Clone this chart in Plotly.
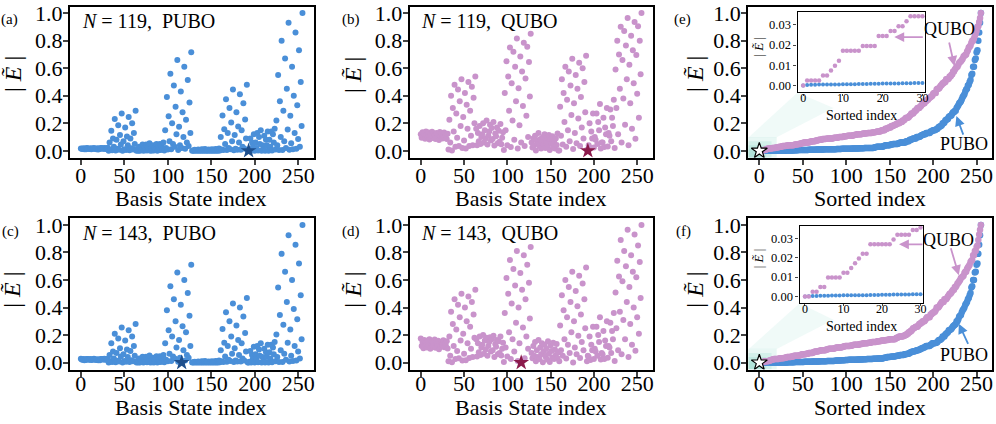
import plotly.graph_objects as go

W, H = 996, 424
FONT = "Liberation Serif"

# ---------------- data (256 basis states each) ----------------
pubo_119 = [
    0.016,0.014,0.013,0.018,0.011,0.016,0.012,0.020, 0.017,0.015,0.013,0.019,0.012,0.017,0.014,0.021, 0.015,0.014,0.012,0.018,0.010,0.016,0.013,0.020, 0.018,0.016,0.015,0.021,0.013,0.018,0.014,0.023,
    0.0006,0.06,0.008,0.146,0.004,0.09,0.03,0.23, 0.003,0.08,0.014,0.186,0.008,0.115,0.045,0.27, 0.0012,0.07,0.011,0.17,0.006,0.104,0.04,0.245, 0.004,0.09,0.018,0.20,0.01,0.13,0.05,0.29,
    0.0004,0.012,0.0012,0.03,0.0010,0.02,0.006,0.045, 0.0009,0.02,0.004,0.045,0.003,0.03,0.01,0.055, 0.0006,0.015,0.002,0.04,0.0015,0.025,0.008,0.05, 0.0011,0.025,0.006,0.05,0.005,0.035,0.012,0.06,
    0.003,0.15,0.02,0.39,0.01,0.25,0.07,0.56, 0.012,0.20,0.05,0.475,0.03,0.32,0.12,0.66, 0.006,0.175,0.04,0.43,0.02,0.28,0.10,0.61, 0.015,0.225,0.06,0.515,0.035,0.35,0.13,0.715,
    0.0002,0.003,0.0005,0.007,0.0003,0.005,0.0007,0.009, 0.0004,0.006,0.0008,0.011,0.0006,0.009,0.0010,0.013, 0.0003,0.004,0.0006,0.009,0.0004,0.007,0.0008,0.011, 0.0005,0.008,0.0009,0.013,0.0007,0.011,0.0011,0.016,
    0.002,0.10,0.01,0.256,0.005,0.157,0.05,0.375, 0.006,0.13,0.02,0.31,0.012,0.205,0.07,0.445, 0.004,0.115,0.015,0.28,0.008,0.176,0.06,0.41, 0.008,0.15,0.03,0.345,0.016,0.228,0.09,0.48,
    0.0005,0.0,0.005,0.09,0.0008,0.06,0.03,0.12, 0.0009,0.06,0.02,0.13,0.002,0.10,0.05,0.15, 0.0007,0.04,0.012,0.11,0.0011,0.08,0.04,0.14, 0.0012,0.08,0.03,0.14,0.003,0.12,0.06,0.16,
    0.01,0.22,0.04,0.55,0.005,0.36,0.10,0.80, 0.005,0.29,0.07,0.67,0.02,0.45,0.155,0.93, 0.008,0.255,0.055,0.61,0.012,0.40,0.13,0.86, 0.015,0.33,0.085,0.73,0.03,0.50,0.18,1.00,
]
qubo_119 = [
    0.120,0.095,0.135,0.105,0.128,0.088,0.140,0.112, 0.100,0.132,0.082,0.118,0.092,0.138,0.108,0.125, 0.115,0.085,0.130,0.098,0.122,0.078,0.136,0.103, 0.127,0.090,0.110,0.133,0.094,0.117,0.086,0.124,
    0.0098,0.225,0.06,0.40,0.00245,0.31,0.14,0.48, 0.0294,0.27,0.095,0.445,0.0343,0.36,0.18,0.52, 0.0196,0.245,0.075,0.42,0.01715,0.335,0.16,0.50, 0.0343,0.29,0.11,0.465,0.04,0.385,0.20,0.54,
    0.16,0.04,0.13,0.07,0.18,0.05,0.10,0.12, 0.20,0.06,0.15,0.09,0.22,0.045,0.11,0.14, 0.19,0.075,0.165,0.085,0.21,0.038,0.125,0.105, 0.17,0.055,0.145,0.065,0.195,0.048,0.095,0.135,
    0.0049,0.42,0.15,0.65,0.04,0.54,0.29,0.75, 0.02695,0.49,0.22,0.72,0.08,0.61,0.36,0.815, 0.01715,0.455,0.185,0.685,0.06,0.575,0.325,0.785, 0.0343,0.525,0.255,0.755,0.10,0.645,0.395,0.85,
    0.06,0.0245,0.09,0.04,0.11,0.00245,0.075,0.05, 0.13,0.036,0.085,0.01715,0.065,0.10,0.045,0.12, 0.0196,0.07,0.095,0.038,0.115,0.0049,0.08,0.055, 0.105,0.0245,0.068,0.01715,0.09,0.042,0.125,0.00245,
    0.00245,0.32,0.11,0.52,0.045,0.42,0.21,0.61, 0.0294,0.37,0.15,0.575,0.07,0.475,0.26,0.668, 0.01225,0.345,0.13,0.55,0.055,0.45,0.235,0.64, 0.0343,0.39,0.17,0.60,0.09,0.50,0.28,0.69,
    0.00735,0.0,0.04,0.20,0.0196,0.14,0.09,0.27, 0.0245,0.10,0.08,0.27,0.05,0.21,0.15,0.34, 0.01715,0.06,0.06,0.24,0.02695,0.17,0.12,0.31, 0.03185,0.13,0.11,0.30,0.07,0.24,0.18,0.37,
    0.0196,0.59,0.31,0.80,0.12,0.70,0.45,0.90, 0.06,0.66,0.38,0.87,0.19,0.765,0.52,0.965, 0.04,0.625,0.345,0.835,0.16,0.73,0.49,0.935, 0.087,0.695,0.415,0.905,0.24,0.80,0.555,1.00,
]
pubo_143 = [
    0.028,0.022,0.020,0.026,0.018,0.024,0.019,0.027, 0.026,0.023,0.021,0.027,0.019,0.025,0.020,0.028, 0.024,0.021,0.019,0.025,0.017,0.023,0.018,0.026, 0.027,0.024,0.022,0.028,0.020,0.026,0.021,0.029,
    0.0006,0.055,0.008,0.14,0.004,0.08,0.03,0.21, 0.003,0.07,0.014,0.175,0.008,0.105,0.045,0.255, 0.0012,0.06,0.011,0.16,0.006,0.095,0.04,0.235, 0.004,0.085,0.018,0.19,0.01,0.12,0.05,0.28,
    0.0004,0.011,0.0012,0.03,0.0010,0.018,0.006,0.042, 0.0009,0.019,0.004,0.042,0.003,0.028,0.01,0.052, 0.0006,0.014,0.002,0.036,0.0015,0.023,0.008,0.047, 0.0011,0.023,0.006,0.047,0.005,0.033,0.012,0.056,
    0.003,0.14,0.02,0.38,0.01,0.235,0.065,0.555, 0.012,0.19,0.045,0.46,0.03,0.30,0.11,0.655, 0.006,0.165,0.035,0.42,0.0,0.265,0.09,0.60, 0.015,0.22,0.055,0.505,0.035,0.34,0.12,0.71,
    0.0002,0.003,0.0005,0.006,0.0003,0.005,0.0007,0.008, 0.0004,0.005,0.0008,0.010,0.0006,0.008,0.0010,0.012, 0.0003,0.004,0.0006,0.008,0.0004,0.006,0.0008,0.010, 0.0005,0.007,0.0009,0.012,0.0007,0.010,0.0011,0.015,
    0.002,0.09,0.01,0.245,0.005,0.145,0.045,0.365, 0.006,0.12,0.02,0.30,0.012,0.19,0.065,0.43, 0.004,0.105,0.015,0.27,0.008,0.165,0.055,0.40, 0.008,0.14,0.03,0.335,0.016,0.215,0.08,0.47,
    0.0005,0.0013,0.006,0.085,0.0008,0.055,0.03,0.115, 0.0009,0.06,0.02,0.12,0.002,0.095,0.05,0.14, 0.0007,0.04,0.012,0.10,0.0011,0.075,0.04,0.13, 0.0012,0.075,0.03,0.13,0.003,0.11,0.06,0.15,
    0.01,0.205,0.04,0.545,0.005,0.345,0.09,0.79, 0.005,0.275,0.065,0.66,0.02,0.44,0.145,0.925, 0.008,0.24,0.05,0.60,0.012,0.39,0.12,0.855, 0.015,0.315,0.08,0.72,0.03,0.49,0.17,1.00,
]
qubo_143 = [
    0.175,0.120,0.150,0.105,0.165,0.130,0.145,0.110, 0.160,0.125,0.170,0.100,0.140,0.155,0.115,0.135, 0.168,0.108,0.148,0.128,0.158,0.098,0.138,0.118, 0.152,0.132,0.162,0.112,0.142,0.122,0.156,0.102,
    0.0098,0.19,0.05,0.37,0.00245,0.28,0.12,0.46, 0.02695,0.24,0.085,0.42,0.03185,0.33,0.16,0.50, 0.0147,0.21,0.065,0.40,0.01715,0.30,0.14,0.48, 0.0343,0.26,0.10,0.44,0.04,0.35,0.18,0.53,
    0.17,0.045,0.14,0.075,0.19,0.055,0.11,0.13, 0.20,0.065,0.16,0.095,0.18,0.05,0.12,0.15, 0.185,0.08,0.17,0.09,0.195,0.04,0.135,0.115, 0.165,0.06,0.155,0.07,0.19,0.052,0.10,0.145,
    0.0049,0.36,0.11,0.615,0.045,0.50,0.22,0.745, 0.02695,0.43,0.17,0.68,0.08,0.56,0.29,0.81, 0.01225,0.40,0.14,0.65,0.0,0.53,0.255,0.78, 0.03185,0.46,0.19,0.71,0.10,0.58,0.32,0.84,
    0.07,0.03185,0.12,0.05,0.15,0.0098,0.09,0.04, 0.165,0.02695,0.11,0.06,0.14,0.00245,0.08,0.13, 0.045,0.10,0.02205,0.155,0.065,0.0049,0.125,0.085, 0.038,0.145,0.02695,0.095,0.055,0.135,0.03185,0.075,
    0.0098,0.27,0.09,0.49,0.05,0.38,0.17,0.60, 0.0294,0.33,0.13,0.55,0.07,0.44,0.22,0.66, 0.0,0.30,0.11,0.52,0.06,0.41,0.195,0.63, 0.0343,0.35,0.15,0.575,0.09,0.46,0.25,0.69,
    0.0098,0.05,0.04,0.19,0.0196,0.13,0.09,0.26, 0.02695,0.10,0.08,0.26,0.05,0.20,0.15,0.33, 0.02205,0.07,0.06,0.23,0.02695,0.16,0.12,0.30, 0.0355,0.12,0.11,0.29,0.07,0.23,0.17,0.36,
    0.01225,0.51,0.25,0.74,0.09,0.625,0.37,0.89, 0.06,0.59,0.31,0.81,0.17,0.70,0.44,0.965, 0.04,0.55,0.28,0.78,0.13,0.66,0.40,0.93, 0.087,0.62,0.33,0.85,0.21,0.73,0.47,1.00,
]
ground_119 = 193          # basis-state index of the exact factorisation (star)
ground_143 = 116
n_inset = 31              # sorted points shown in the insets
x_ticks = [0, 50, 100, 150, 200, 250]
y_ticks = [0.0, 0.2, 0.4, 0.6, 0.8, 1.0]
inset_x_ticks = [0, 10, 20, 30]
inset_y_ticks = [0.00, 0.01, 0.02, 0.03]

BLUE = "#4a8fd8"
PINK = "#c993cb"
STAR_BLUE = "#1d4e8c"
STAR_RED = "#8b1a4b"
TEAL = "64,190,165"


def fx(p):
    return p / W


def fy(p):
    return 1 - p / H


fig = go.Figure()

# panel frames in pixels
cols = {"L": (70, 314.5), "M": (411, 654.5), "R": (750.5, 995)}
rows = {"T": (1.0, 156.1, [-0.05, 1.0445], -8), "B": (218.2, 374.1, [-0.05, 1.05], -12)}
panels = [(1, "L", "T"), (2, "M", "T"), (3, "R", "T"),
          (4, "L", "B"), (5, "M", "B"), (6, "R", "B")]
tick_font = dict(family=FONT, size=22, color="black")
layout_axes = {}
for n, c, r in panels:
    x0, x1 = cols[c]
    yt, yb, yr, xstand = rows[r]
    sx = "" if n == 1 else str(n)
    layout_axes["xaxis" + sx] = dict(
        domain=[fx(x0), fx(x1)], range=[-12.75, 267.75], anchor="y" + sx,
        tickvals=x_ticks, ticks="outside", ticklen=5, tickwidth=1.5,
        ticklabelstandoff=xstand, ticklabeloverflow="allow",
        showline=True, linecolor="black", linewidth=2, mirror=True,
        showgrid=False, zeroline=False, tickfont=tick_font)
    layout_axes["yaxis" + sx] = dict(
        domain=[fy(yb), fy(yt)], range=yr, anchor="x" + sx,
        tickvals=y_ticks, tickformat=".1f", ticks="outside", ticklen=5, tickwidth=1.5,
        ticklabelstandoff=-4, ticklabeloverflow="allow",
        showline=True, linecolor="black", linewidth=2, mirror=True,
        showgrid=False, zeroline=False, tickfont=tick_font)

# insets
inset_boxes = {7: (800, 928, 6, 89), 8: (802, 926, 226, 306)}
for n, (x0, x1, yt, yb) in inset_boxes.items():
    layout_axes["xaxis%d" % n] = dict(
        domain=[fx(x0), fx(x1)], range=[-1.4, 30.7], anchor="y%d" % n,
        tickvals=inset_x_ticks, ticks="outside", ticklen=2, tickwidth=1,
        ticklabelstandoff=-8, ticklabeloverflow="allow",
        showline=True, linecolor="black", linewidth=1.3, mirror=True,
        showgrid=False, zeroline=False,
        tickfont=dict(family=FONT, size=12, color="black"))
    layout_axes["yaxis%d" % n] = dict(
        domain=[fy(yb), fy(yt)], range=[-0.0035, 0.0365], anchor="x%d" % n,
        tickvals=inset_y_ticks, tickformat=".2f", ticks="outside", ticklen=3, tickwidth=1,
        ticklabeloverflow="allow",
        showline=True, linecolor="black", linewidth=1.3, mirror=True,
        showgrid=False, zeroline=False,
        tickfont=dict(family=FONT, size=12.5, color="black"))

idx = list(range(len(pubo_119)))


def dots(x, y, color, ax, size=6):
    return go.Scatter(x=x, y=y, mode="markers", xaxis="x" + ax, yaxis="y" + ax,
                      marker=dict(color=color, size=size, line=dict(width=0)),
                      hoverinfo="skip")


def star(x, y, color, ax, outline="rgba(0,0,0,0)"):
    return go.Scatter(x=[x], y=[y], mode="markers", xaxis="x" + ax, yaxis="y" + ax,
                      marker=dict(symbol="star", size=12, color=color,
                                  line=dict(width=1.2, color=outline)),
                      hoverinfo="skip")


# (a)-(d) scatter panels
fig.add_trace(dots(idx, pubo_119, BLUE, ""))
fig.add_trace(star(ground_119, pubo_119[ground_119], STAR_BLUE, ""))
fig.add_trace(dots(idx, qubo_119, PINK, "2"))
fig.add_trace(star(ground_119, qubo_119[ground_119], STAR_RED, "2"))
fig.add_trace(dots(idx, pubo_143, BLUE, "4"))
fig.add_trace(star(ground_143, pubo_143[ground_143], STAR_BLUE, "4"))
fig.add_trace(dots(idx, qubo_143, PINK, "5"))
fig.add_trace(star(ground_143, qubo_143[ground_143], STAR_RED, "5"))

# (e),(f) sorted panels + insets
for pub, qub, ax, iax in [(pubo_119, qubo_119, "3", "7"), (pubo_143, qubo_143, "6", "8")]:
    sp = sorted(pub)
    sq = sorted(qub)
    fig.add_trace(dots(idx, sp, BLUE, ax, 6.5))
    fig.add_trace(dots(idx, sq, PINK, ax, 6.5))
    fig.add_trace(star(0, sq[0], "white", ax, "black"))
    fig.add_trace(dots(list(range(n_inset)), sp[:n_inset], BLUE, iax, 4))
    fig.add_trace(dots(list(range(n_inset)), sq[:n_inset], PINK, iax, 4.5))

# teal zoom shading
shapes = []
for ax in ["3", "6"]:
    for x1, y1 in [(20, 0.10), (14, 0.07), (8, 0.04), (2, 0.01)]:
        shapes.append(dict(type="rect", xref="x" + ax, yref="y" + ax, x0=-12.75, x1=x1,
                           y0=-0.05, y1=y1, fillcolor="rgba(%s,0.12)" % TEAL,
                           line=dict(width=0), layer="below"))
for (ax0, ay0), (bx, by), (cx, cy), (dx, dy) in [
        ((751, 135), (800, 89), (836, 105), (779, 135)),
        ((751, 353), (802, 306), (836, 323), (779, 353))]:
    path = "M %f,%f L %f,%f L %f,%f L %f,%f Z" % (
        fx(ax0), fy(ay0), fx(bx), fy(by), fx(cx), fy(cy), fx(dx), fy(dy))
    shapes.append(dict(type="path", xref="paper", yref="paper", path=path,
                       fillcolor="rgba(%s,0.08)" % TEAL, line=dict(width=0), layer="below"))

ann = []


def text(x, y, s, size, xanchor="center", angle=0):
    ann.append(dict(x=fx(x), y=fy(y), xref="paper", yref="paper", text=s, showarrow=False,
                    xanchor=xanchor, yanchor="middle", textangle=angle,
                    font=dict(family=FONT, size=size, color="black")))


def arrow(hx, hy, tx, ty, color):
    ann.append(dict(x=fx(hx), y=fy(hy), xref="paper", yref="paper", text="",
                    showarrow=True, axref="pixel", ayref="pixel", ax=tx - hx, ay=ty - hy,
                    arrowhead=2, arrowsize=1.1, arrowwidth=1.8, arrowcolor=color))


# panel letters
for s, x, y in [("(a)", 10, 14), ("(b)", 352.5, 14), ("(e)", 685, 14),
                ("(c)", 11, 232), ("(d)", 352.5, 232), ("(f)", 685.5, 232)]:
    text(x, y, s, 15)
# labels inside panels
text(80, 15.5, "<i>N</i> = 119,  PUBO", 20, "left")
text(420, 15.5, "<i>N</i> = 119,  QUBO", 20, "left")
text(80, 233.5, "<i>N</i> = 143,  PUBO", 20, "left")
text(420, 233.5, "<i>N</i> = 143,  QUBO", 20, "left")
# axis titles
EL = "| <i>Ẽ</i> |"
for x, y in [(13, 70), (354, 71), (697, 70), (12, 292), (354, 292), (697, 292)]:
    text(x, y, EL, 24, angle=-90)
for x, y, s in [(192, 198, "Basis State index"), (532.7, 198, "Basis State index"),
                (872.7, 198, "Sorted index"), (192, 413, "Basis State index"),
                (532.7, 413, "Basis State index"), (872.7, 413, "Sorted index")]:
    text(x, y, s, 22)
# inset titles
for (x0, x1, yt, yb), ylab in [(inset_boxes[7], 42), (inset_boxes[8], 260)]:
    text((x0 + x1) / 2, yb + 23.5, "Sorted index", 14)
    text(761, ylab, EL, 13, angle=-90)
# QUBO / PUBO callouts
text(952, 24, "QUBO", 18)
text(966.7, 142, "PUBO", 18)
text(951.7, 241, "QUBO", 18)
text(966.7, 358.7, "PUBO", 18)
arrow(897, 32, 927, 32, PINK)
arrow(957.3, 61.7, 951.7, 36.7, PINK)
arrow(959.3, 113.3, 966.7, 133.3, BLUE)
arrow(901.7, 245.3, 926.7, 245.3, PINK)
arrow(961.7, 277, 953.3, 248.7, PINK)
arrow(961.7, 327, 971.7, 348.7, BLUE)

fig.update_layout(
    width=W, height=H, margin=dict(l=0, r=0, t=0, b=0),
    paper_bgcolor="white", plot_bgcolor="rgba(0,0,0,0)", showlegend=False,
    font=dict(family=FONT, color="black"),
    shapes=shapes, annotations=ann, **layout_axes)

fig.write_html("out.html", config={"displayModeBar": False},
               post_script="document.body.style.margin='0px';document.body.style.overflow='hidden';")
